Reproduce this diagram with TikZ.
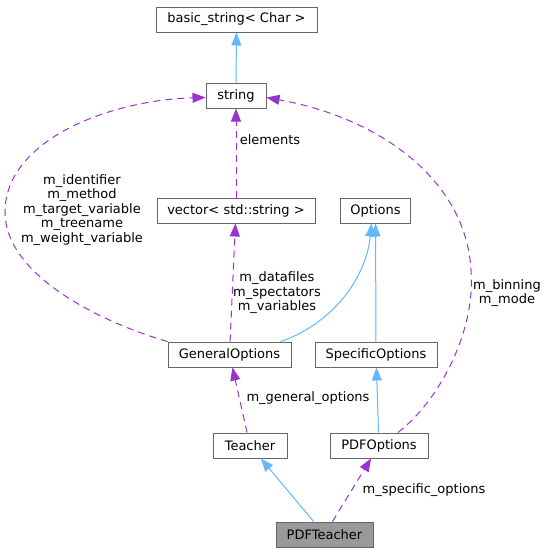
\documentclass[tikz,border=0pt]{standalone}
\usepackage{fontspec}
\setmainfont{DejaVu Sans}
\usetikzlibrary{arrows.meta}
\definecolor{inhblue}{HTML}{63B8FF}
\definecolor{usepurple}{HTML}{9A32CD}
\definecolor{boxgray}{HTML}{666666}
\definecolor{focusgray}{HTML}{999999}
\tikzset{
  box/.style={draw=boxgray, fill=white, line width=1pt, minimum height=25pt, inner sep=0pt, font=\fontsize{13}{14.5}\selectfont},
  lbl/.style={align=center, inner sep=0pt, font=\fontsize{13}{14.5}\selectfont},
  inh/.style={draw=inhblue, line width=1pt, -{Triangle[length=13pt,width=10pt]}, fill=none},
  usedash/.style={draw=usepurple, line width=1pt, dash pattern=on 7pt off 5pt, -{Triangle[length=13pt,width=10pt,fill=usepurple]}},
}
\begin{document}
\begin{tikzpicture}[x=1pt,y=-1pt]
\useasboundingbox (0,0) rectangle (549,555);
\node[box, minimum width=161pt] (basic) at (236.5,19.5) {basic\_string< Char >};
\node[box, minimum width=60pt] (string) at (236,95.5) {string};
\node[box, minimum width=158pt] (vector) at (236,210.5) {vector< std::string >};
\node[box, minimum width=70pt] (options) at (375.5,210.5) {Options};
\node[box, minimum width=123pt] (general) at (229.5,354.5) {GeneralOptions};
\node[box, minimum width=122pt] (specific) at (376,354.5) {SpecificOptions};
\node[box, minimum width=74pt] (teacher) at (250,445.5) {Teacher};
\node[box, minimum width=98pt] (pdfopt) at (379,445.5) {PDFOptions};
\node[box, minimum width=97pt, fill=focusgray] (pdfteacher) at (324.5,534.5) {PDFTeacher};

% inheritance
\draw[inh, fill=inhblue] (string) -- (basic);
\draw[inh, fill=inhblue] (specific) -- (options);
\draw[inh, fill=inhblue] (pdfopt) -- (specific);
\draw[inh, fill=inhblue] (pdfteacher) -- (teacher);
\draw[inh] ([xshift=-11pt]general.north east) .. controls (330,325) and (366,280) .. ([xshift=-4pt]options.south);

% usage
\draw[usedash] (vector) -- (string);
\draw[usedash] (general) -- (vector);
\draw[usedash] (teacher) -- (general);
\draw[usedash] (pdfteacher) -- (pdfopt);
\draw[usedash] (general.north west) .. controls (100,322) and (5,275) .. (5,212)
   .. controls (5,140) and (110,100) .. ([yshift=-2pt]string.west);
\draw[usedash] ([xshift=19pt]pdfopt.north) .. controls (440,400) and (476,330) .. (471,270)
   .. controls (466,180) and (380,118) .. ([yshift=-2pt]string.east);

% labels
\node[lbl] (lelements) at (270,140) {elements};
\node[lbl] (lident) at (82,210) {m\_identifier\\m\_method\\m\_target\_variable\\m\_treename\\m\_weight\_variable};
\node[lbl] (ldata) at (277,293) {m\_datafiles\\m\_spectators\\m\_variables};
\node[lbl] (lbin) at (507,293) {m\_binning\\m\_mode};
\node[lbl] (lgen) at (308,398) {m\_general\_options};
\node[lbl] (lspec) at (424,490) {m\_specific\_options};
\end{tikzpicture}
\end{document}
